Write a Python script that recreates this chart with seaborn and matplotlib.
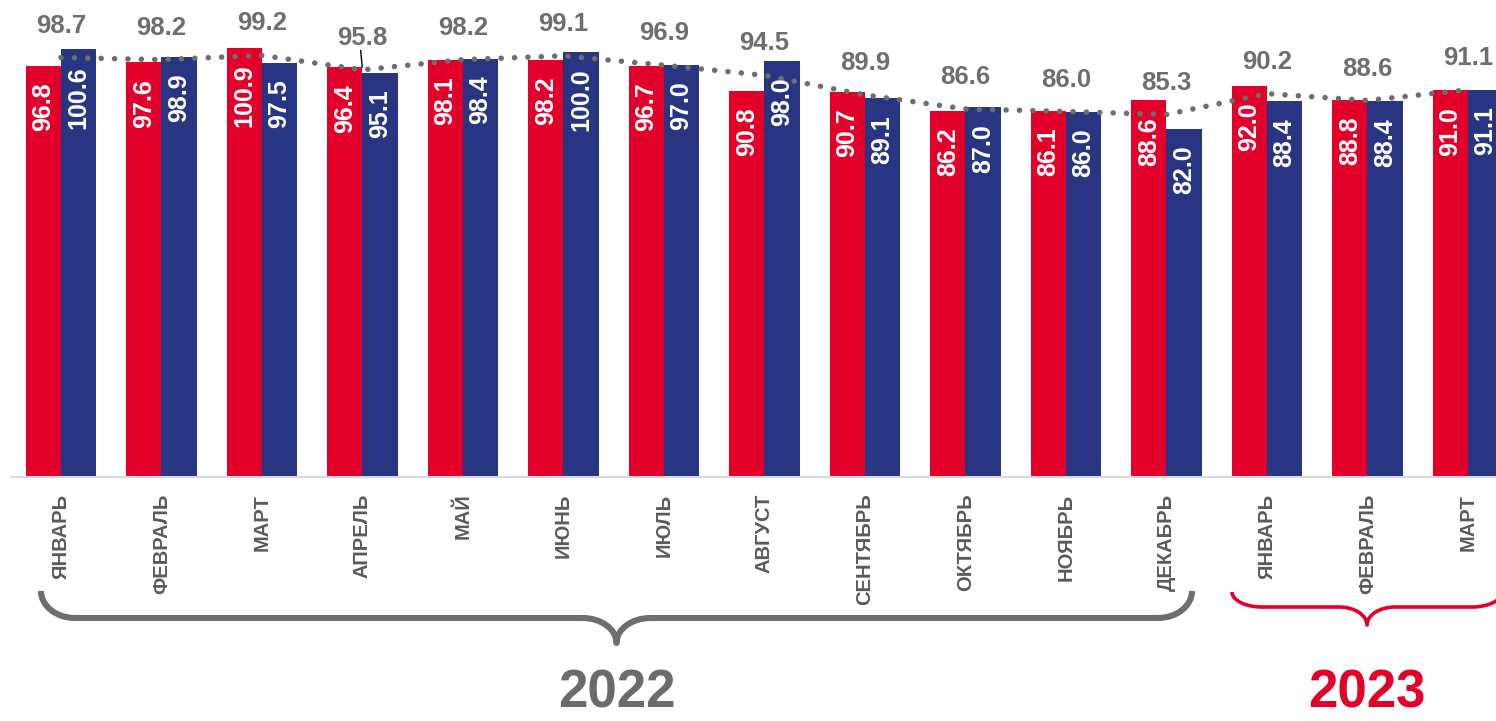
import numpy as np
import pandas as pd
import matplotlib
matplotlib.use('Agg')
import matplotlib.pyplot as plt
from matplotlib.path import Path
from matplotlib.patches import PathPatch
from matplotlib.transforms import Affine2D
import seaborn as sns

# Data
months = ['ЯНВАРЬ', 'ФЕВРАЛЬ', 'МАРТ', 'АПРЕЛЬ', 'МАЙ', 'ИЮНЬ', 'ИЮЛЬ', 'АВГУСТ',
          'СЕНТЯБРЬ', 'ОКТЯБРЬ', 'НОЯБРЬ', 'ДЕКАБРЬ', 'ЯНВАРЬ', 'ФЕВРАЛЬ', 'МАРТ']
periods = [f'2022-{m:02d}' for m in range(1, 13)] + [f'2023-{m:02d}' for m in range(1, 4)]
red_vals = [96.8, 97.6, 100.9, 96.4, 98.1, 98.2, 96.7, 90.8, 90.7, 86.2, 86.1, 88.6, 92.0, 88.8, 91.0]
blue_vals = [100.6, 98.9, 97.5, 95.1, 98.4, 100.0, 97.0, 98.0, 89.1, 87.0, 86.0, 82.0, 88.4, 88.4, 91.1]
line_vals = [98.7, 98.2, 99.2, 95.8, 98.2, 99.1, 96.9, 94.5, 89.9, 86.6, 86.0, 85.3, 90.2, 88.6, 91.1]
years = ['2022', '2023']

RED = '#E2002A'
BLUE = '#273582'
GRAY = '#6E6E6E'
TICK_GRAY = '#5A5A5A'

W, H = 1496, 721
sns.set_theme(style='white')
plt.rcParams['font.family'] = ['Liberation Sans', 'DejaVu Sans']

df = pd.DataFrame({
    'period': periods * 2,
    'series': ['red'] * len(periods) + ['blue'] * len(periods),
    'value': red_vals + blue_vals,
})

fig = plt.figure(figsize=(W / 100, H / 100), dpi=100)
ax = fig.add_axes([12 / W, 1 - 477 / H, 1 - 12 / W, 477 / H])

sns.barplot(data=df, x='period', y='value', hue='series', order=periods,
            hue_order=['red', 'blue'], palette=[RED, BLUE], width=0.7,
            saturation=1, legend=False, ax=ax, edgecolor='none')

x = np.arange(len(periods))
ax.plot(x, line_vals, color=GRAY, linewidth=4.0, linestyle=(0, (0.01, 2.4)),
        dash_capstyle='round', solid_capstyle='round', zorder=5)

# bar value labels inside bars
for cont in ax.containers:
    for bar in cont:
        h = bar.get_height()
        ax.annotate(f'{h:.1f}', (bar.get_x() + bar.get_width() / 2, h),
                    xytext=(0, -12), textcoords='offset points',
                    rotation=90, ha='center', va='top', color='white',
                    fontsize=18, fontweight='bold', zorder=6)

# line labels
for i, v in enumerate(line_vals):
    ax.annotate(f'{v:.1f}', (i, v), xytext=(0, 23), textcoords='offset points',
                ha='center', va='center', color=GRAY, fontsize=18.5,
                fontweight='bold', zorder=7)
# leader line for April
ax.annotate('', (3, line_vals[3]), xytext=(-1.5, 16), textcoords='offset points',
            arrowprops=dict(arrowstyle='-', color='black', lw=1.0), zorder=7)

ax.set_xlim(-0.4876, 14.279)
ax.set_ylim(0, 477 / 4.25)
ax.set_xticks(x)
ax.set_xticklabels(months, rotation=90, ha='center', va='top', fontsize=14.5,
                   fontweight='bold', color=TICK_GRAY)
ax.tick_params(axis='x', length=0, pad=12)
ax.set_yticks([])
ax.set_xlabel('')
ax.set_ylabel('')
for s in ['top', 'left', 'right']:
    ax.spines[s].set_visible(False)
ax.spines['bottom'].set_color('#D9D9D9')
ax.spines['bottom'].set_linewidth(1.5)


def brace(x0, x1, ytop, ymid, ytip, rx, rc, color, lw):
    k = 0.5523
    xc = (x0 + x1) / 2
    dy = ymid - ytop
    dt = ytip - ymid
    verts = [
        (x0, ytop),
        (x0, ytop + k * dy), (x0 + rx - k * rx, ymid), (x0 + rx, ymid),
        (xc - rc, ymid),
        (xc - rc + k * rc, ymid), (xc, ytip - k * dt), (xc, ytip),
        (xc, ytip - k * dt), (xc + rc - k * rc, ymid), (xc + rc, ymid),
        (x1 - rx, ymid),
        (x1 - rx + k * rx, ymid), (x1, ytop + k * dy), (x1, ytop),
    ]
    codes = [Path.MOVETO,
             Path.CURVE4, Path.CURVE4, Path.CURVE4,
             Path.LINETO,
             Path.CURVE4, Path.CURVE4, Path.CURVE4,
             Path.CURVE4, Path.CURVE4, Path.CURVE4,
             Path.LINETO,
             Path.CURVE4, Path.CURVE4, Path.CURVE4]
    tr = Affine2D().scale(1 / W, -1 / H).translate(0, 1) + fig.transFigure
    fig.patches.append(PathPatch(Path(verts, codes), facecolor='none',
                                 edgecolor=color, lw=lw, transform=tr,
                                 capstyle='butt', joinstyle='round'))


brace(41, 1192, 591, 618, 643, 34, 34, GRAY, 4.4)
brace(1232, 1502, 592, 607, 625, 30, 28, RED, 2.6)

fig.text(617 / W, 1 - 694 / H, years[0], ha='center', va='center',
         fontsize=38, fontweight='bold', color='#6B6B6B')
fig.text(1367 / W, 1 - 694 / H, years[1], ha='center', va='center',
         fontsize=38, fontweight='bold', color=RED)

fig.savefig('out.png', dpi=100)
